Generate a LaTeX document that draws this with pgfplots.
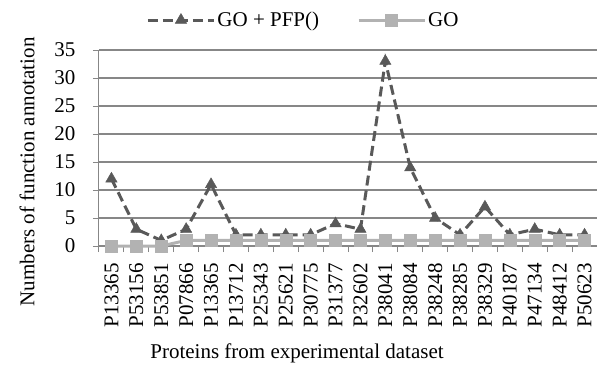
\documentclass[border=0pt]{standalone}
\usepackage{fontspec}
\setmainfont{Liberation Serif}
\usepackage{pgfplots}
\pgfplotsset{compat=1.18}
\definecolor{dk}{HTML}{595959}
\definecolor{lt}{HTML}{B2B2B2}
\definecolor{gr}{HTML}{878787}
\newcommand\fs{\fontsize{21}{25}\selectfont}
\begin{document}
\begin{tikzpicture}
\begin{axis}[name=ax,
  scale only axis, width=498pt, height=196pt,
  xmin=-0.5, xmax=19.5, ymin=0, ymax=35,
  clip=false,
  axis lines*=left, axis line style={-, draw=gr, line width=1pt},
  ytick={0,5,...,35},
  xtick={-0.5,0.5,1.5,2.5,3.5,4.5,5.5,6.5,7.5,8.5,9.5,10.5,11.5,12.5,13.5,14.5,15.5,16.5,17.5,18.5,19.5},
  x tick label as interval,
  xticklabels={P13365,P53156,P53851,P07866,P13365,P13712,P25343,P25621,P30775,P31377,P32602,P38041,P38084,P38248,P38285,P38329,P40187,P47134,P48412,P50623},
  tick align=outside, major tick length=6pt,
  tick style={draw=gr, line width=1pt},
  ymajorgrids, major grid style={draw=gr, line width=1.2pt},
  /pgf/number format/assume math mode=true,
  tick label style={font=\fs},
  x tick label style={rotate=90, anchor=east, inner sep=0pt, xshift=-11pt},
  y tick label style={xshift=-14pt},
  label style={font=\fs},
  xlabel={Proteins from experimental dataset},
  x label style={at={(axis description cs:0.3976,-0.55)}, anchor=center},
  ylabel={Numbers of function annotation},
  y label style={at={(axis description cs:-0.1446,0.378)}, anchor=center},
  legend style={at={(axis description cs:0.4106,1.153)}, anchor=center, draw=none, fill=none,
    font=\fs, legend columns=2,
    /tikz/every even column/.append style={column sep=36pt}},
  legend image code/.code={\draw[mark repeat=2, mark phase=2, #1] plot coordinates {(0pt,0pt) (33pt,0pt) (66pt,0pt)};},
]
\addplot[dk, line width=3pt, dash pattern=on 10pt off 5pt, mark=triangle*, mark size=6.5pt, mark options={solid, fill=dk, draw=dk, line width=0.5pt}]
  coordinates {(0,12) (1,3) (2,1) (3,3) (4,11) (5,2) (6,2) (7,2) (8,2) (9,4) (10,3) (11,33) (12,14) (13,5) (14,2) (15,7) (16,2) (17,3) (18,2) (19,2)};
\addlegendentry{GO + PFP()}
\addplot[lt, line width=3pt, mark=square*, mark size=6pt, mark options={solid, fill=lt, draw=lt, line width=0.5pt}]
  coordinates {(0,0) (1,0) (2,0) (3,1) (4,1) (5,1) (6,1) (7,1) (8,1) (9,1) (10,1) (11,1) (12,1) (13,1) (14,1) (15,1) (16,1) (17,1) (18,1) (19,1)};
\addlegendentry{GO}
\end{axis}
\pgfresetboundingbox
\path (ax.south west) ++(-99pt,-122pt) rectangle ++(597pt,368pt);
\end{tikzpicture}
\end{document}
